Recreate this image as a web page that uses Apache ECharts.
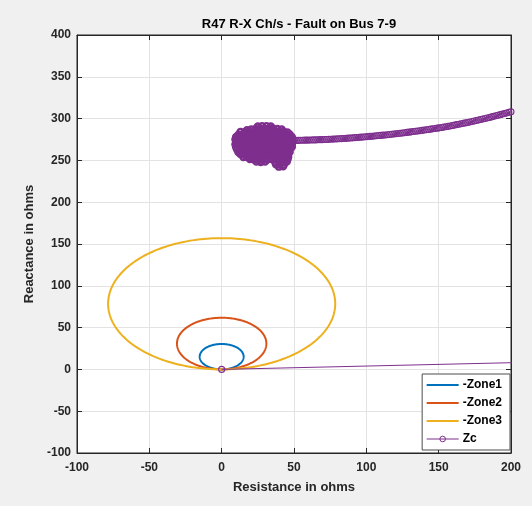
<!DOCTYPE html>
<html><head><meta charset="utf-8">
<script src="https://cdn.jsdelivr.net/npm/echarts@6/dist/echarts.min.js"></script>
<style>html,body{margin:0;padding:0;background:#f0f0f0}#c{width:532px;height:506px}</style>
</head><body><div id="c"></div><script>
// ---- data ----
const zoneNames = ['-Zone1', '-Zone2', '-Zone3'];
const zoneCenterX = [0, 0, 0];
const zoneCenterY = [15.2, 30.9, 78.5];
const zoneRadius = [15.2, 30.9, 78.5];

const zcStart = [[0, 0], [2500, 100]];
const zcTrajectory = [
  [50,273.8],[51.5,273.9],[53,273.95],[54.5,274.05],[56,274.1],[57.5,274.2],[59,274.25],[60.5,274.3],[62,274.4],[63.5,274.5],
  [65,274.55],[66.5,274.65],[68,274.8],[69.5,274.85],[71,274.95],[72.5,275.05],[74,275.2],[75.5,275.35],[77,275.5],[78.5,275.65],
  [80,275.8],[81.5,275.95],[83,276.1],[84.5,276.25],[86,276.4],[87.5,276.6],[89,276.8],[90.5,277.0],[92,277.2],[93.5,277.35],
  [95,277.55],[96.5,277.8],[98,278.0],[99.5,278.2],[101,278.45],[102.5,278.7],[104,278.9],[105.5,279.15],[107,279.4],[108.5,279.7],
  [110,279.9],[111.5,280.2],[113,280.45],[114.5,280.7],[116,281.0],[117.5,281.3],[119,281.6],[120.5,281.9],[122,282.2],[123.5,282.5],
  [125,282.8],[126.5,283.15],[128,283.5],[129.5,283.8],[131,284.15],[132.5,284.5],[134,284.8],[135.5,285.2],[137,285.55],[138.5,285.9],
  [140,286.3],[141.5,286.65],[143,287.05],[144.5,287.4],[146,287.8],[147.5,288.2],[149,288.55],[150.5,288.95],[152,289.4],[153.5,289.85],
  [155,290.3],[156.5,290.75],[158,291.2],[159.5,291.7],[161,292.25],[162.5,292.8],[164,293.3],[165.5,293.8],[167,294.35],[168.5,294.85],
  [170,295.4],[171.5,295.95],[173,296.5],[174.5,297.1],[176,297.7],[177.5,298.3],[179,298.9],[180.5,299.5],[182,300.1],[183.5,300.7],
  [185,301.35],[186.5,302.05],[188,302.7],[189.5,303.4],[191,304.05],[192.5,304.75],[194,305.4],[195.5,306.1],[197,306.75],[198.5,307.45],
  [200,308.1],[201.5,308.8],[203,309.5],[206,311.0]
];
const zcCluster = [
  [25,290.5],[28,291],[31,291],[34,290.5],
  [41.5,287],[38.5,287.5],[35.5,288],[32.5,288],[29.5,288],[26.5,288],[23.5,287.5],[20.5,287],[17.5,286],
  [13,284],[16,284],[19,284],[22,284],[25,284],[28,284],[31,284],[34,284],[37,284],[40,284],[43,284],[45.5,283.5],
  [47,281],[44.5,281],[41.5,281],[38.5,281],[35.5,281],[32.5,281],[29.5,281],[26.5,281],[23.5,281],[20.5,281],[17.5,281],[14.5,281],[11.5,280.5],
  [10,278],[13,278],[16,278],[19,278],[22,278],[25,278],[28,278],[31,278],[34,278],[37,278],[40,278],[43,278],[46,278],[48.5,278],
  [48.5,275],[45.5,275],[42.5,275],[39.5,275],[36.5,275],[33.5,275],[30.5,275],[27.5,275],[24.5,275],[21.5,275],[18.5,275],[15.5,275],[12.5,275],[9.5,275],
  [10,272],[13,272],[16,272],[19,272],[22,272],[25,272],[28,272],[31,272],[34,272],[37,272],[40,272],[43,272],[46,272],[49,272],
  [48.5,269],[45.5,269],[42.5,269],[39.5,269],[36.5,269],[33.5,269],[30.5,269],[27.5,269],[24.5,269],[21.5,269],[18.5,269],[15.5,269],[12.5,269],[9.5,269],
  [10,266],[13,266],[16,266],[19,266],[22,266],[25,266],[28,266],[31,266],[34,266],[37,266],[40,266],[43,266],[46,266],[48.5,266],
  [46.5,263],[43.5,263],[40.5,263],[37.5,263],[34.5,263],[31.5,263],[28.5,263],[25.5,263],[22.5,263],[19.5,263],[16.5,263],[13.5,263],[10.5,263.5],
  [11.5,260],[14,260],[17,260],[20,260],[23,260],[26,260],[29,260],[32,260],[35,260],[38,260],[41,260],[44,260],[47,260],
  [45.5,257],[42.5,257],[39.5,257],[36.5,257],[33.5,257],[30.5,257],[27.5,257],[24.5,257],[21.5,257],[18.5,257],[15.5,257],[13,257.5],
  [15,254],[17.5,254],[20,254],[23,254],[26,254],[29,254],[32,254],[35,254],[38,254],[41,254],[44,254],[46,254],
  [45.5,251],[43.5,251],[40.5,251],[37.5,251],[34.5,251.5],[31.5,251],[28.5,250.5],[25.5,250.5],[22.5,251],[19.5,251.5],
  [24,248.5],[27,248],[30,248.5],[37,248],[40,248],[43,248],[45,248.5],
  [43,245],[40,245],[37.5,245.5],
  [39.5,242.5],[42.5,243]
];

// ---- chart ----
const FONT = '"Liberation Sans", Arial, sans-serif';
const AX = '#262626';
const zoneColors = ['#0072BD', '#D95319', '#EDB120'];
const ZC = '#7E2F8E';

const chart = echarts.init(document.getElementById('c'), null, {renderer: 'canvas'});

function axisCommon(min, max) {
  return {
    type: 'value', min: min, max: max, interval: 50,
    axisLine: {show: true, onZero: false, lineStyle: {color: AX, width: 1}},
    axisTick: {show: true, inside: true, length: 5, lineStyle: {color: AX}},
    splitLine: {show: false}
  };
}

const zoneSeries = zoneNames.map((name, i) => ({
  name: name,
  type: 'custom',
  xAxisIndex: 0, yAxisIndex: 0,
  itemStyle: {color: zoneColors[i]},
  encode: {x: 0, y: 1},
  data: [[zoneCenterX[i], zoneCenterY[i], zoneRadius[i]]],
  renderItem: function (params, api) {
    const cx = api.value(0), cy = api.value(1), r = api.value(2);
    const pts = [];
    for (let k = 0; k <= 240; k++) {
      const t = k / 240 * 2 * Math.PI;
      pts.push(api.coord([cx + r * Math.sin(t), cy - r * Math.cos(t)]));
    }
    return {type: 'polyline', shape: {points: pts}, style: {stroke: api.visual('color'), lineWidth: 2, fill: null}, silent: true};
  },
  z: 3
}));

const zcStyle = {
  type: 'line',
  name: 'Zc',
  xAxisIndex: 0, yAxisIndex: 0,
  symbol: 'circle',
  symbolSize: 6,
  showAllSymbol: true,
  clip: true,
  itemStyle: {color: 'rgba(0,0,0,0)', borderColor: ZC, borderWidth: 1.1},
  lineStyle: {color: ZC, width: 1},
  emphasis: {disabled: true},
  animation: false,
  z: 4
};

const option = {
  animation: false,
  backgroundColor: '#f0f0f0',
  textStyle: {fontFamily: FONT},
  title: {
    text: 'R47 R-X Ch/s - Fault on Bus 7-9',
    left: 294, top: 13, textAlign: 'center',
    textStyle: {fontFamily: FONT, fontSize: 13, fontWeight: 'bold', color: '#000'}
  },
  grid: {left: 77, right: 21, top: 35, bottom: 53, show: true, backgroundColor: '#fff', borderColor: AX, borderWidth: 1, containLabel: false},
  xAxis: [
    Object.assign(axisCommon(-100, 200), {
      position: 'bottom',
      name: 'Resistance in ohms', nameLocation: 'middle', nameGap: 28,
      nameTextStyle: {fontFamily: FONT, fontSize: 13, fontWeight: 'bold', color: AX},
      axisLabel: {margin: 9, fontFamily: FONT, fontSize: 12, fontWeight: 'bold', color: AX},
      splitLine: {show: true, lineStyle: {color: '#e3e3e3', width: 1}}
    }),
    Object.assign(axisCommon(-100, 200), {position: 'top', axisLabel: {show: false}})
  ],
  yAxis: [
    Object.assign(axisCommon(-100, 400), {
      position: 'left',
      name: 'Reactance in ohms', nameLocation: 'middle', nameGap: 39,
      nameTextStyle: {fontFamily: FONT, fontSize: 13, fontWeight: 'bold', color: AX},
      axisLabel: {margin: 6, fontFamily: FONT, fontSize: 12, fontWeight: 'bold', color: AX},
      splitLine: {show: true, lineStyle: {color: '#e3e3e3', width: 1}}
    }),
    Object.assign(axisCommon(-100, 400), {position: 'right', axisLabel: {show: false}})
  ],
  legend: {
    orient: 'vertical',
    right: 22, top: 374,
    width: 84,
    padding: [5, 8, 5, 4],
    itemWidth: 32, itemHeight: 7, itemGap: 6,
    backgroundColor: '#fff',
    borderColor: '#4d4d4d', borderWidth: 1, borderRadius: 0,
    selectedMode: false,
    textStyle: {fontFamily: FONT, fontSize: 12, fontWeight: 'bold', color: '#000', padding: [0, 0, 0, -1]},
    data: [
      {name: '-Zone1', icon: 'path://M0,0H32V2.2H0Z'},
      {name: '-Zone2', icon: 'path://M0,0H32V2.2H0Z'},
      {name: '-Zone3', icon: 'path://M0,0H32V2.2H0Z'},
      {name: 'Zc', itemStyle: {color: 'rgba(0,0,0,0)', borderColor: ZC, borderWidth: 1}, lineStyle: {color: ZC, width: 1}}
    ]
  },
  series: zoneSeries.concat([
    Object.assign({}, zcStyle, {data: zcStart}),
    Object.assign({}, zcStyle, {data: zcTrajectory}),
    Object.assign({}, zcStyle, {data: zcCluster, itemStyle: {color: 'rgba(0,0,0,0)', borderColor: ZC, borderWidth: 2.4}, lineStyle: {color: ZC, width: 1.5}})
  ])
};
chart.setOption(option);
</script></body></html>
